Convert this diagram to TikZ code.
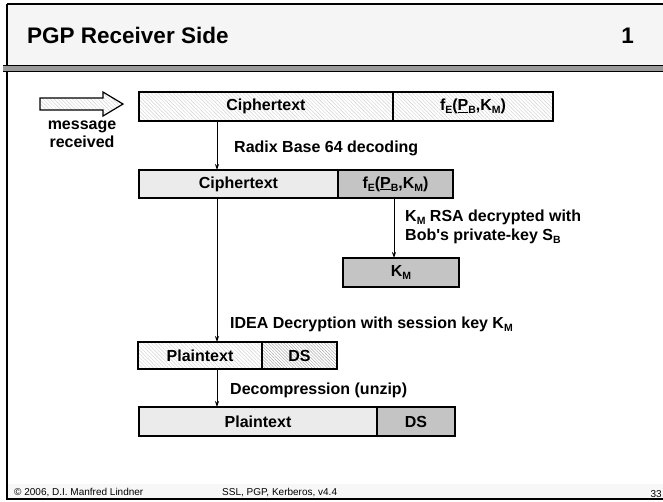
\documentclass[tikz,border=0pt]{standalone}
\usepackage{fontspec}
\setmainfont{Liberation Sans}[Ligatures=TeXOff]
\usetikzlibrary{arrows.meta,patterns.meta}
% lowered small index for the key names
\newcommand{\lowix}[1]{\raisebox{-0.4ex}{\fontsize{10.5}{10.5}\selectfont #1}}
\definecolor{titlebg}{HTML}{F5F5F5}
\definecolor{lightcell}{HTML}{EBEBEB}
\definecolor{darkcell}{HTML}{C4C4C4}
\definecolor{rulegray}{HTML}{9A9A9A}
\tikzset{
  cell/.style={draw, line width=1.2pt, inner sep=0pt, outer sep=0pt, anchor=north west,
    font=\fontsize{16}{18}\selectfont\bfseries},
  hatchlight/.style={pattern={Lines[angle=-45,distance=2.6pt,line width=0.45pt]}, pattern color=gray!35},
  hatchdense/.style={pattern={Lines[angle=-45,distance=2.2pt,line width=0.5pt]}, pattern color=gray!65},
  flow/.style={line width=0.8pt, -{Stealth[length=6pt,width=4pt]}},
  steplabel/.style={anchor=west, inner sep=0pt, align=left, font=\fontsize{16}{19}\selectfont\bfseries},
  footer/.style={anchor=base west, inner sep=0pt, font=\fontsize{10}{11}\selectfont},
}
\begin{document}
\begin{tikzpicture}[x=1pt,y=-1pt]
\useasboundingbox (0,0) rectangle (663,501);
\fill[white] (0,0) rectangle (663,501);

% slide frame, title band and footer band
\fill[titlebg] (7,4) rectangle (665,65);
\fill[gray!6] (7,484) rectangle (665,499);
\draw[line width=1.2pt] (7,4) -- (665,4);
\draw[line width=1.2pt] (7,4) -- (7,499) -- (665,499);
\fill[rulegray] (3,65) rectangle (665,71);
\draw[line width=0.9pt] (3,65) -- (665,65);
\draw[line width=0.9pt] (3,71) -- (665,71);

\node[anchor=base west, inner sep=0pt, font=\fontsize{22.5}{24}\selectfont\bfseries] (title) at (27,43) {PGP Receiver Side};
\node[anchor=base east, inner sep=0pt, font=\fontsize{22.5}{24}\selectfont\bfseries] (slideno) at (634,43) {1};

% incoming message arrow
\filldraw[hatchlight, draw=black, line width=1.2pt]
  (40,98) -- (103,98) -- (103,92) -- (123,104) -- (103,116) -- (103,110) -- (40,110) -- cycle;
\node[align=center, inner sep=0pt, font=\fontsize{16}{18}\selectfont\bfseries] (recv) at (82,134) {message\\received};

% received packet
\node[cell, hatchlight, minimum width=254pt, minimum height=29pt] (c1a) at (139,92) {Ciphertext};
\node[cell, hatchlight, minimum width=160pt, minimum height=29pt] (c1b) at (393,92)
  {f\lowix{E}(\underline{P}\lowix{B},K\lowix{M})};

% after radix-64 decoding
\node[cell, fill=lightcell, minimum width=199pt, minimum height=28pt] (c2a) at (139,170) {Ciphertext};
\node[cell, fill=darkcell, minimum width=115pt, minimum height=28pt] (c2b) at (338,170)
  {f\lowix{E}(\underline{P}\lowix{B},K\lowix{M})};

% recovered session key
\node[cell, fill=darkcell, minimum width=116pt, minimum height=29pt] (km) at (343,258) {K\lowix{M}};

% after IDEA decryption
\node[cell, hatchlight, minimum width=124pt, minimum height=27pt] (c3a) at (138,342) {Plaintext};
\node[cell, hatchdense, minimum width=75pt, minimum height=27pt] (c3b) at (262,342) {DS};

% after decompression
\node[cell, fill=lightcell, minimum width=238pt, minimum height=29pt] (c4a) at (139,407) {Plaintext};
\node[cell, fill=darkcell, minimum width=78pt, minimum height=29pt] (c4b) at (377,407) {DS};

% processing steps
\coordinate (spine) at (217,0);
\coordinate (keyline) at (394,0);
\draw[flow] (spine |- c1a.south) -- (spine |- c2a.north);
\draw[flow] (spine |- c2a.south) -- (spine |- c3a.north);
\draw[flow] (spine |- c3a.south) -- (spine |- c4a.north);
\draw[flow] (keyline |- c2b.south) -- (keyline |- km.north);

\node[steplabel] (l1) at (234,148) {Radix Base 64 decoding};
\node[steplabel] (l2) at (405,227) {K\lowix{M} RSA decrypted with\\Bob's private-key S\lowix{B}};
\node[steplabel] (l3) at (230,324) {IDEA Decryption with session key K\lowix{M}};
\node[steplabel] (l4) at (230,390) {Decompression (unzip)};

% footer
\node[footer] (f1) at (14,495) {© 2006, D.I. Manfred Lindner};
\node[footer] (f2) at (222,495) {SSL, PGP, Kerberos, v4.4};
\node[footer, anchor=base east] (f3) at (662,497) {33};
\end{tikzpicture}
\end{document}
